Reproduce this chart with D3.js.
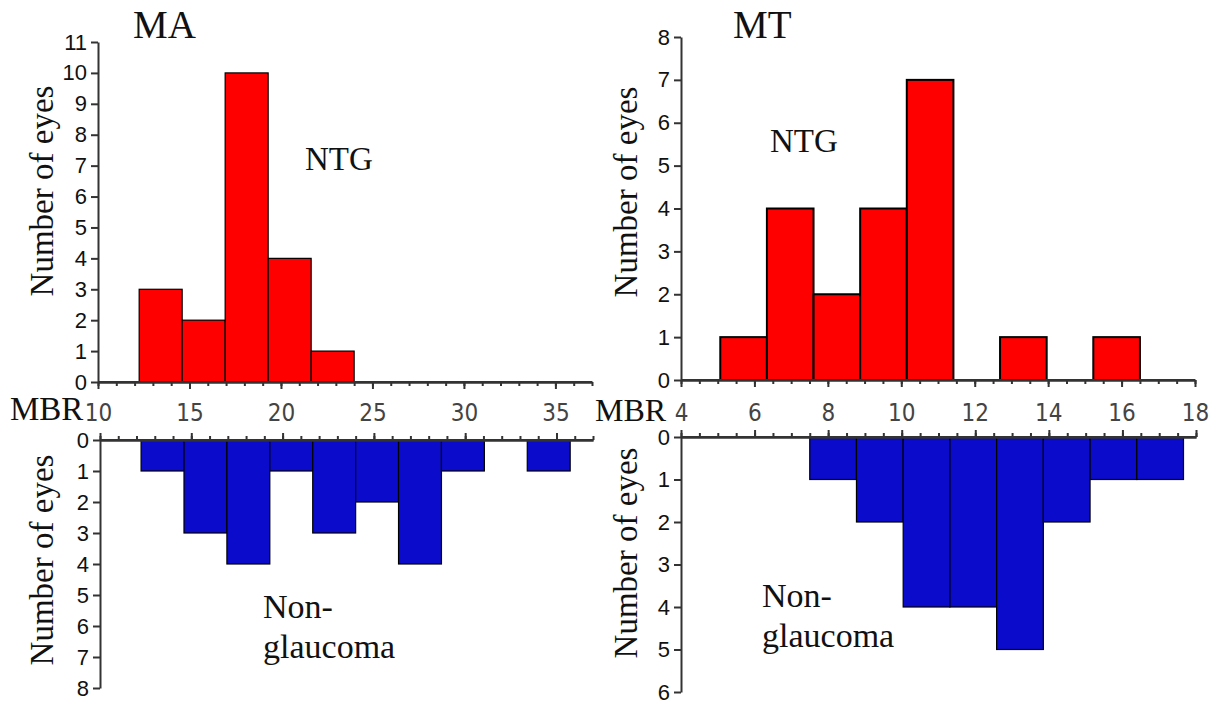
<!DOCTYPE html>
<html>
<head>
<meta charset="utf-8">
<script src="https://cdn.jsdelivr.net/npm/d3@7"></script>
<style>
  body { margin: 0; background: #fff; }
  svg { display: block; }
</style>
</head>
<body>
<svg width="1214" height="704"></svg>
<script>
// MBR histograms
var maNtgEdges = [12.25, 14.6, 16.95, 19.3, 21.65, 24.0];
var maNtgCounts = [3, 2, 10, 4, 1];
var maNonEdges = [12.25, 14.6, 16.95, 19.3, 21.65, 24.0, 26.35, 28.7, 31.05, 33.4, 35.75];
var maNonCounts = [1, 3, 4, 1, 3, 2, 4, 1, 0, 1];

var mtNtgEdges = [5.07, 6.34, 7.61, 8.88, 10.15, 11.42, 12.69, 13.96, 15.23, 16.5];
var mtNtgCounts = [1, 4, 2, 4, 7, 0, 1, 0, 1];
var mtNonEdges = [7.5, 8.77, 10.04, 11.31, 12.58, 13.85, 15.12, 16.39, 17.66];
var mtNonCounts = [1, 2, 4, 4, 5, 2, 1, 1];

var maXTicks = [10, 15, 20, 25, 30, 35];
var mtXTicks = [4, 6, 8, 10, 12, 14, 16, 18];

var svg = d3.select('svg');
var serif = '"Liberation Serif", "Times New Roman", serif';
var sans = '"Liberation Sans", Arial, sans-serif';
var narrow = '"Liberation Sans Narrow", "DejaVu Sans Condensed", sans-serif';

var toBins = (edges, counts) => counts.map((c, i) => ({x0: edges[i], x1: edges[i + 1], n: c}))
  .filter(d => d.n > 0);

var panel = opt => {
  var x = d3.scaleLinear().domain(opt.xDomain).range(opt.xRange);
  var y = d3.scaleLinear().domain(opt.yDomain).range(opt.yRange);
  var axisY = y(0);
  var g = svg.append('g');

  // bars
  g.selectAll('rect').data(toBins(opt.edges, opt.counts))
    .enter().append('rect')
    .attr('x', d => x(d.x0))
    .attr('width', d => x(d.x1) - x(d.x0))
    .attr('y', d => Math.min(y(d.n), axisY))
    .attr('height', d => Math.abs(y(d.n) - axisY))
    .attr('fill', opt.fill)
    .attr('stroke', '#000')
    .attr('stroke-width', opt.barStroke);

  // x axis: minor then major ticks
  var mk = opt.down ? d3.axisBottom : d3.axisTop;
  var minor = g.append('g').attr('transform', 'translate(0,' + axisY + ')')
    .call(mk(x).tickValues(d3.range(opt.xDomain[0], opt.xDomain[1] + 0.001, opt.minorStep))
      .tickSize(4).tickSizeOuter(0).tickFormat(''));
  var major = g.append('g').attr('transform', 'translate(0,' + axisY + ')')
    .call(mk(x).tickValues(opt.xTicks).tickSize(7).tickSizeOuter(0).tickFormat(opt.down ? d3.format('d') : ''));
  [minor, major].forEach(a => {
    a.select('.domain').attr('stroke', '#333').attr('stroke-width', 2);
    a.selectAll('line').attr('stroke', '#333').attr('stroke-width', 2);
  });
  if (opt.down) {
    major.selectAll('text')
      .attr('y', opt.labelBase - axisY).attr('dy', 0)
      .attr('font-family', narrow).attr('font-size', 24).attr('fill', '#444');
  }
  // extend the axis line to the right edge
  g.append('line').attr('x1', x(opt.xDomain[0])).attr('x2', x(opt.xDomain[1]))
    .attr('y1', axisY).attr('y2', axisY).attr('stroke', '#333').attr('stroke-width', 2);

  // y axis
  var ya = g.append('g').attr('transform', 'translate(' + x(opt.xDomain[0]) + ',0)')
    .call(d3.axisLeft(y).tickValues(d3.range(opt.yDomain[0], opt.yDomain[1] + 1))
      .tickSize(7).tickPadding(4).tickSizeOuter(0).tickFormat(d3.format('d')));
  ya.select('.domain').attr('stroke', '#333').attr('stroke-width', 2);
  ya.selectAll('line').attr('stroke', '#333').attr('stroke-width', 2);
  ya.selectAll('text').attr('font-family', sans).attr('font-size', 22).attr('fill', '#111');

  // y title
  svg.append('text')
    .attr('transform', 'translate(' + opt.titleX + ',' + opt.titleY + ') rotate(-90)')
    .attr('text-anchor', 'middle')
    .attr('font-family', serif).attr('font-size', 33).attr('fill', '#111')
    .text('Number of eyes');

  // group label
  var lab = svg.append('text').attr('font-family', serif).attr('font-size', opt.labSize || 33)
    .attr('fill', '#111').attr('x', opt.labX).attr('y', opt.labY);
  opt.label.forEach((t, i) => {
    lab.append('tspan').attr('x', opt.labX).attr('dy', i ? 40 : 0).text(t);
  });
};

// MA, NTG
panel({xDomain: [10, 37], xRange: [98, 592], yDomain: [0, 11], yRange: [382, 42],
  edges: maNtgEdges, counts: maNtgCounts, fill: '#ff0000', barStroke: 1.2,
  down: true, xTicks: maXTicks, minorStep: 1, labelBase: 421,
  titleX: 53, titleY: 191, label: ['NTG'], labX: 305, labY: 170});
// MA, non-glaucoma
panel({xDomain: [10, 37], xRange: [100, 593], yDomain: [0, 8], yRange: [440, 688],
  edges: maNonEdges, counts: maNonCounts, fill: '#0b0bcc', barStroke: 1.2,
  down: false, xTicks: maXTicks, minorStep: 1,
  titleX: 53, titleY: 560, label: ['Non-', 'glaucoma'], labX: 263, labY: 618, labSize: 34});
// MT, NTG
panel({xDomain: [4, 18], xRange: [681, 1195], yDomain: [0, 8], yRange: [380, 37],
  edges: mtNtgEdges, counts: mtNtgCounts, fill: '#ff0000', barStroke: 2,
  down: true, xTicks: mtXTicks, minorStep: 0.5, labelBase: 421,
  titleX: 637, titleY: 192, label: ['NTG'], labX: 770, labY: 152});
// MT, non-glaucoma
panel({xDomain: [4, 18], xRange: [681, 1196], yDomain: [0, 6], yRange: [437, 692],
  edges: mtNonEdges, counts: mtNonCounts, fill: '#0b0bcc', barStroke: 1.2,
  down: false, xTicks: mtXTicks, minorStep: 0.5,
  titleX: 637, titleY: 553, label: ['Non-', 'glaucoma'], labX: 762, labY: 607, labSize: 34});

// panel titles and MBR labels
svg.append('text').attr('x', 133).attr('y', 38).attr('font-family', serif)
  .attr('font-size', 39).attr('fill', '#111').text('MA');
svg.append('text').attr('x', 733).attr('y', 38).attr('font-family', serif)
  .attr('font-size', 39).attr('fill', '#111').text('MT');
svg.append('text').attr('x', 10).attr('y', 420).attr('font-family', serif)
  .attr('font-size', 33).attr('fill', '#111').text('MBR');
svg.append('text').attr('x', 595).attr('y', 421).attr('font-family', serif)
  .attr('font-size', 32).attr('fill', '#111').text('MBR');
</script>
</body>
</html>
